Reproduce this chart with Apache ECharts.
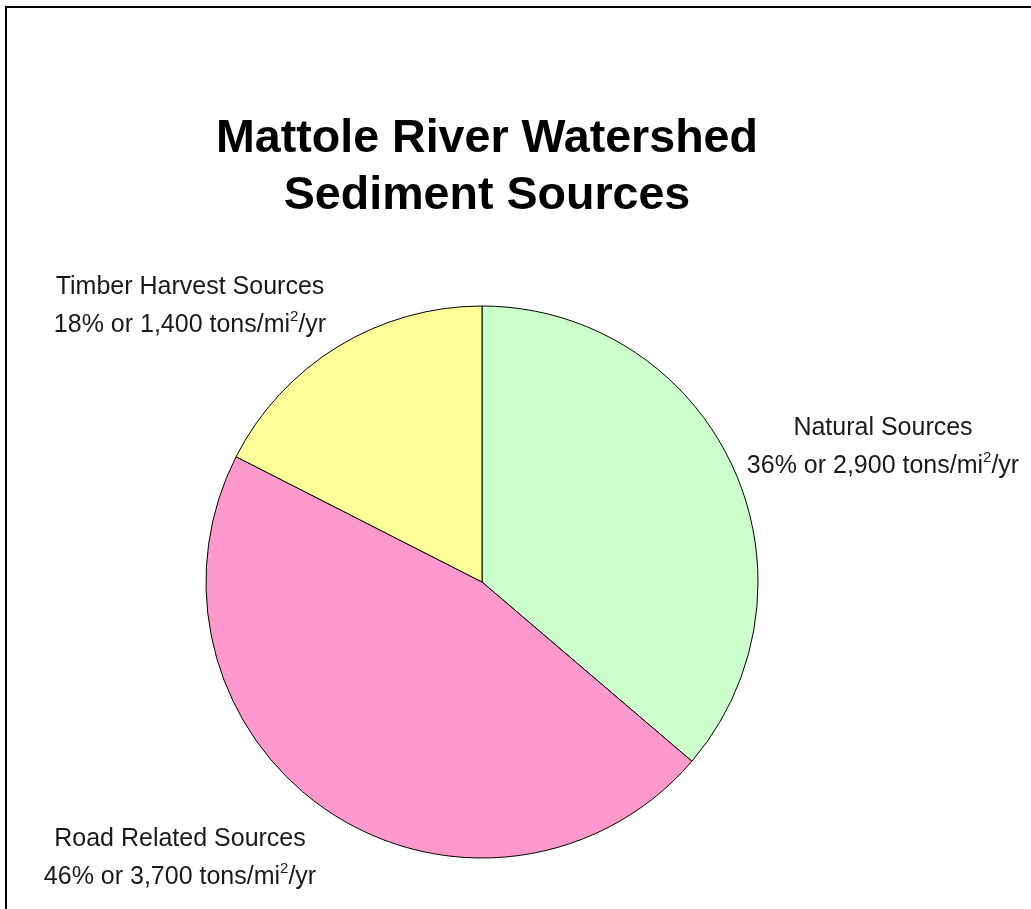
<!DOCTYPE html>
<html>
<head>
<meta charset="utf-8">
<script src="https://cdn.jsdelivr.net/npm/echarts@6/dist/echarts.min.js"></script>
<style>
  html, body { margin: 0; padding: 0; background: #fff; }
  #chart { position: absolute; left: 0; top: 0; width: 1031px; height: 909px; }
  #frame { position: absolute; left: 5px; top: 6px; width: 1100px; height: 1000px;
           border-left: 2px solid #000; border-top: 2px solid #000; pointer-events: none; }
</style>
</head>
<body>
<div id="chart"></div>
<div id="frame"></div>
<script>
const categories = ['Natural Sources', 'Road Related Sources', 'Timber Harvest Sources'];
const tons = [2900, 3700, 1400];
const percents = [36, 46, 18];
const tonLabels = ['2,900', '3,700', '1,400'];
const colors = ['#CCFFCC', '#FF99CC', '#FFFF99'];
const titleLines = ['Mattole River Watershed', 'Sediment Sources'];

// label anchor positions (layout only)
const labelPos = [[883, 447], [180, 858], [190, 306]];

const chart = echarts.init(document.getElementById('chart'), null, { renderer: 'canvas' });

const FONT = '"Liberation Sans", Arial, sans-serif';

chart.setOption({
  backgroundColor: 'transparent',
  animation: false,
  title: {
    text: titleLines.join('\n'),
    left: 482,
    top: 106,
    textAlign: 'center',
    textStyle: {
      fontFamily: FONT,
      fontWeight: 'bold',
      fontSize: 46.6,
      lineHeight: 57,
      color: '#000'
    }
  },
  series: [{
    type: 'pie',
    center: [482, 582],
    radius: 276,
    startAngle: 90,
    clockwise: true,
    avoidLabelOverlap: false,
    itemStyle: { borderColor: '#000', borderWidth: 1 },
    emphasis: { disabled: true },
    labelLine: { show: false },
    label: {
      show: true,
      position: 'outside',
      fontFamily: FONT,
      formatter: function (p) {
        const i = p.dataIndex;
        return '{a|' + categories[i] + '}\n{a|' + percents[i] + '% or ' + tonLabels[i] + ' tons/mi}{s|2}{a|/yr}';
      },
      rich: {
        a: { fontFamily: FONT, fontSize: 25, lineHeight: 38, color: '#1a1a1a' },
        s: { fontFamily: FONT, fontSize: 15, lineHeight: 38, color: '#1a1a1a', padding: [0, 0, 16, 0] }
      }
    },
    labelLayout: function (params) {
      const pos = labelPos[params.dataIndex];
      return { x: pos[0], y: pos[1], align: 'center', verticalAlign: 'middle', hideOverlap: false };
    },
    data: categories.map((c, i) => ({
      name: c,
      value: tons[i],
      itemStyle: { color: colors[i] }
    }))
  }]
});
</script>
</body>
</html>
